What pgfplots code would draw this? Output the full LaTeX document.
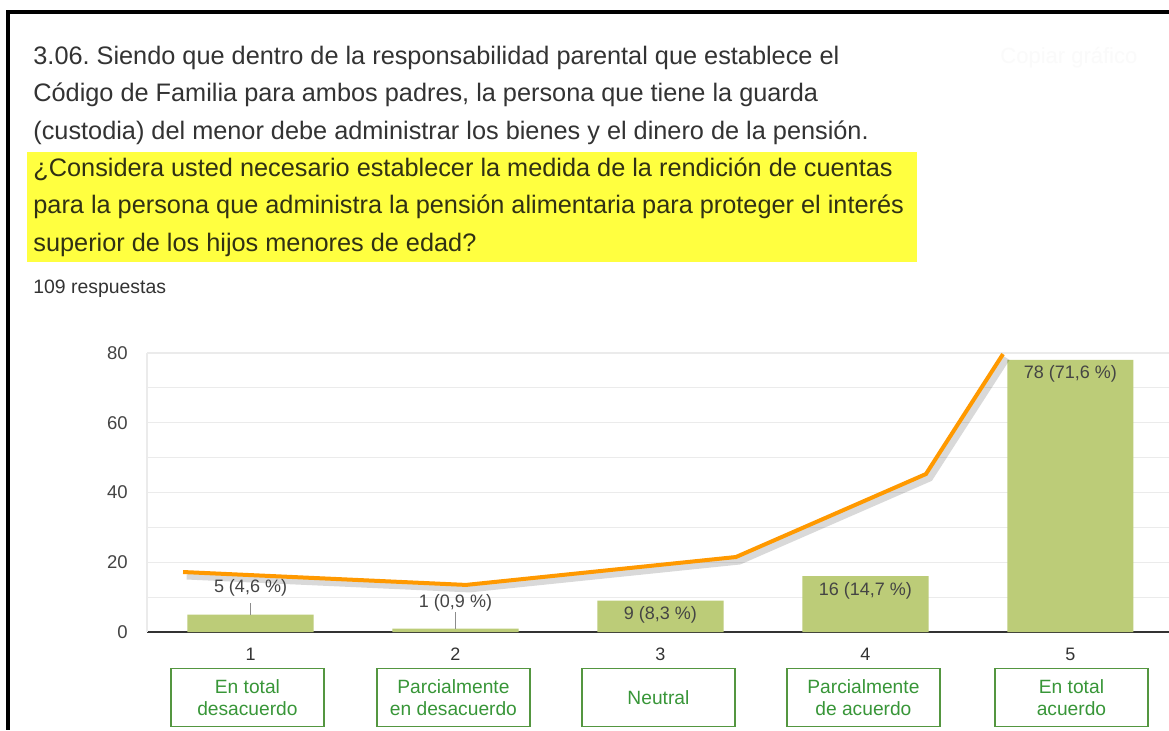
\documentclass[border=0pt]{standalone}
\usepackage{fontspec}
\setmainfont{Liberation Sans}
\usepackage{pgfplots}
\pgfplotsset{compat=1.18}
\frenchspacing
\definecolor{tgray}{RGB}{51,51,51}
\definecolor{hltext}{RGB}{48,48,20}
\definecolor{hly}{RGB}{255,255,64}
\definecolor{bargreen}{RGB}{188,204,120}
\definecolor{lineorange}{RGB}{255,153,0}
\definecolor{gridc}{RGB}{235,235,235}
\definecolor{axdark}{RGB}{51,51,51}
\definecolor{lblgray}{RGB}{68,68,68}
\definecolor{boxborder}{RGB}{84,150,64}
\definecolor{boxtext}{RGB}{56,150,56}
\begin{document}
\begin{tikzpicture}[x=0.5pt,y=0.5pt]
\useasboundingbox (0,0) rectangle (1169,730);
\clip (0,0) rectangle (1169,730);
\fill[white] (0,0) rectangle (1169,730);
% highlight
\fill[hly] (27,468) rectangle (917,578);
% frame
\fill[black] (6,0) rectangle (10,720);
\fill[black] (6,716) rectangle (1169,720);
% faint copy button
\node[anchor=base west, inner sep=0, text=black!2, font=\fontsize{11pt}{13pt}\selectfont] at (1000,666) {Copiar gráfico};
% title
\begin{scope}[every node/.style={anchor=base west, inner sep=0, font=\fontsize{12.65pt}{15pt}\selectfont}]
\node[text=tgray] at (33,665) {3.06. Siendo que dentro de la responsabilidad parental que establece el};
\node[text=tgray] at (33,628.3) {Código de Familia para ambos padres, la persona que tiene la guarda};
\node[text=tgray] at (33,590.9) {(custodia) del menor debe administrar los bienes y el dinero de la pensión.};
\node[text=hltext] at (33,553.6) {¿Considera usted necesario establecer la medida de la rendición de cuentas};
\node[text=hltext] at (33,516.2) {para la persona que administra la pensión alimentaria para proteger el interés};
\node[text=hltext] at (33,478.3) {superior de los hijos menores de edad?};
\end{scope}
\node[anchor=base west, inner sep=0, text=tgray, font=\fontsize{9.7pt}{11pt}\selectfont] at (33,436.7) {109 respuestas};
\begin{axis}[
  at={(73.5pt,49pt)}, anchor=south west,
  scale only axis, width=514pt, height=139.5pt,
  xmin=0.495, xmax=5.51, ymin=0, ymax=80,
  clip=false,
  axis x line*=bottom, axis y line*=left,
  x axis line style={draw=axdark, line width=0.75pt},
  y axis line style={draw=gridc, line width=0.6pt},
  xtick={1,2,3,4,5}, xticklabels={1,2,3,4,5},
  ytick={0,20,40,60,80},
  minor ytick={10,30,50,70},
  ymajorgrids, yminorgrids,
  major grid style={draw=gridc, line width=0.6pt},
  minor grid style={draw=gridc, line width=0.6pt},
  major tick length=0pt, minor tick length=0pt,
  /pgf/number format/assume math mode=true,
  yticklabel style={anchor=east, inner sep=0pt, xshift=-9.5pt, text=lblgray, font=\fontsize{9.25pt}{11pt}\selectfont},
  xticklabel style={anchor=north, inner sep=0pt, yshift=-8pt, text=axdark, font=\fontsize{9pt}{11pt}\selectfont},
]
\addplot[ybar, bar width=0.615, fill=bargreen, draw=none] coordinates {(1,5) (2,1) (3,9) (4,16) (5,78)};
\addplot[sharp plot, no marks, draw=lineorange, line width=2pt, line join=miter,
  preaction={draw=black, opacity=0.15, line width=3.5pt, transform canvas={xshift=1.8pt, yshift=-2pt}}]
  coordinates {(0.671,17.2) (2.051,13.5) (3.368,21.5) (4.295,45.3) (4.671,79.7)};
% leader lines
\draw[black!45, line width=0.5pt] (axis cs:1,5) -- (axis cs:1,8.3);
\draw[black!45, line width=0.5pt] (axis cs:2,1) -- (axis cs:2,5.7);
% value labels
\begin{scope}[every node/.style={inner sep=0pt, text=lblgray, font=\fontsize{9pt}{11pt}\selectfont}]
\node at (axis cs:1,12.6) {5 (4,6 \%)};
\node at (axis cs:2,8.3) {1 (0,9 \%)};
\node at (axis cs:3,4.9) {9 (8,3 \%)};
\node at (axis cs:4,11.8) {16 (14,7 \%)};
\node at (axis cs:5,74.0) {78 (71,6 \%)};
\end{scope}
% category boxes
\begin{scope}[every node/.style={draw=boxborder, line width=0.6pt, text=boxtext, align=center, minimum width=76.5pt, minimum height=29pt, inner sep=0pt, font=\fontsize{9.6pt}{11pt}\selectfont, yshift=-32.75pt}]
\node at (axis cs:0.985,0) {En total\\desacuerdo};
\node at (axis cs:1.99,0) {Parcialmente\\en desacuerdo};
\node at (axis cs:2.99,0) {Neutral};
\node at (axis cs:3.99,0) {Parcialmente\\de acuerdo};
\node at (axis cs:5.005,0) {En total\\acuerdo};
\end{scope}
\end{axis}
\end{tikzpicture}
\end{document}
